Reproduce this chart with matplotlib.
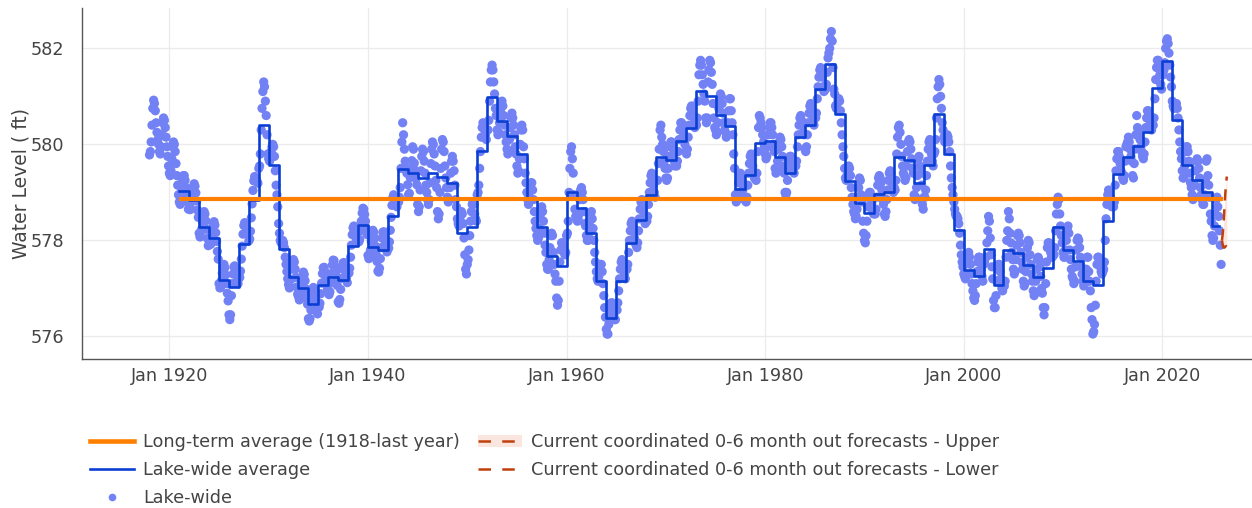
import matplotlib
matplotlib.use("Agg")
import matplotlib.pyplot as plt
import matplotlib.dates as mdates
from matplotlib.lines import Line2D
from matplotlib.patches import Patch
from matplotlib.legend_handler import HandlerTuple
import pandas as pd

# ---------------- data ----------------
monthly_start = "1918-01-01"
# Lake-wide monthly water levels (ft), one row per year 1918..2025 (Jan..Dec)
monthly_levels = [
    [579.78, 579.85, 580.05, 580.40, 580.75, 580.92, 580.85, 580.70, 580.45, 580.25, 580.10, 580.00],  # 1918
    [579.85, 579.80, 579.95, 580.20, 580.45, 580.55, 580.50, 580.35, 580.15, 579.95, 579.75, 579.55],  # 1919
    [579.40, 579.35, 579.45, 579.70, 579.95, 580.05, 580.00, 579.85, 579.60, 579.35, 579.15, 578.95],  # 1920
    [578.80, 578.75, 578.85, 579.05, 579.25, 579.35, 579.35, 579.25, 579.10, 578.95, 578.80, 578.65],  # 1921
    [578.72, 578.64, 578.66, 578.81, 578.98, 579.12, 579.18, 579.13, 578.99, 578.82, 578.63, 578.48],  # 1922
    [578.15, 578.07, 578.09, 578.23, 578.40, 578.54, 578.60, 578.55, 578.41, 578.23, 578.04, 577.89],  # 1923
    [578.01, 577.92, 577.92, 578.06, 578.21, 578.33, 578.39, 578.32, 578.16, 577.98, 577.77, 577.61],  # 1924
    [577.10, 577.01, 577.02, 577.16, 577.32, 577.44, 577.50, 577.43, 577.28, 577.10, 576.90, 576.74],  # 1925
    [576.45, 576.35, 576.45, 576.85, 577.10, 577.30, 577.45, 577.47, 577.40, 577.28, 577.15, 577.10],  # 1926
    [577.21, 577.23, 577.36, 577.61, 577.88, 578.13, 578.31, 578.37, 578.33, 578.26, 578.18, 578.13],  # 1927
    [577.99, 578.03, 578.19, 578.47, 578.76, 579.04, 579.24, 579.33, 579.31, 579.27, 579.22, 579.19],  # 1928
    [579.50, 579.55, 579.80, 580.30, 580.75, 581.10, 581.30, 581.20, 580.90, 580.60, 580.20, 579.80],  # 1929
    [579.70, 579.65, 579.70, 579.85, 579.95, 580.00, 579.95, 579.75, 579.45, 579.15, 578.95, 578.70],  # 1930
    [578.35, 578.15, 578.00, 577.95, 577.95, 578.00, 577.95, 577.85, 577.65, 577.50, 577.35, 577.20],  # 1931
    [577.08, 577.01, 577.03, 577.19, 577.40, 577.54, 577.60, 577.55, 577.40, 577.23, 577.03, 576.88],  # 1932
    [576.83, 576.76, 576.78, 576.94, 577.12, 577.26, 577.34, 577.29, 577.16, 576.99, 576.81, 576.67],  # 1933
    [576.37, 576.32, 576.37, 576.55, 576.75, 576.92, 577.02, 577.00, 576.89, 576.75, 576.59, 576.47],  # 1934
    [576.64, 576.61, 576.69, 576.89, 577.11, 577.31, 577.43, 577.44, 577.35, 577.23, 577.10, 577.00],  # 1935
    [576.92, 576.87, 576.93, 577.11, 577.31, 577.49, 577.59, 577.58, 577.47, 577.33, 577.18, 577.06],  # 1936
    [576.72, 576.69, 576.77, 576.98, 577.21, 577.41, 577.53, 577.54, 577.46, 577.35, 577.22, 577.12],  # 1937
    [577.32, 577.32, 577.42, 577.65, 577.90, 578.12, 578.26, 578.30, 578.23, 578.14, 578.03, 577.96],  # 1938
    [578.02, 577.97, 578.02, 578.20, 578.40, 578.57, 578.67, 578.65, 578.54, 578.40, 578.24, 578.12],  # 1939
    [577.69, 577.62, 577.64, 577.80, 577.98, 578.13, 578.21, 578.17, 578.04, 577.88, 577.70, 577.56],  # 1940
    [577.36, 577.34, 577.42, 577.62, 577.85, 578.05, 578.17, 578.18, 578.10, 577.98, 577.85, 577.76],  # 1941
    [577.82, 577.84, 577.97, 578.21, 578.48, 578.73, 578.89, 578.95, 578.91, 578.83, 578.75, 578.70],  # 1942
    [578.85, 578.80, 578.90, 579.10, 579.50, 580.05, 580.45, 580.20, 579.90, 579.65, 579.50, 579.40],  # 1943
    [579.16, 578.95, 578.98, 579.31, 579.50, 579.66, 579.95, 579.90, 579.61, 579.46, 579.29, 579.16],  # 1944
    [578.75, 578.60, 578.70, 579.05, 579.45, 579.75, 579.90, 579.85, 579.65, 579.40, 579.15, 579.00],  # 1945
    [578.85, 578.75, 578.85, 579.20, 579.60, 579.90, 580.05, 580.00, 579.80, 579.55, 579.25, 579.10],  # 1946
    [578.60, 578.45, 578.55, 579.00, 579.50, 579.90, 580.10, 580.05, 579.85, 579.55, 579.30, 579.10],  # 1947
    [578.90, 578.80, 578.85, 579.10, 579.40, 579.65, 579.75, 579.65, 579.45, 579.15, 578.85, 578.70],  # 1948
    [578.45, 578.35, 578.30, 578.45, 578.55, 578.60, 578.55, 578.35, 578.05, 577.70, 577.40, 577.30],  # 1949
    [577.50, 577.60, 577.80, 578.10, 578.40, 578.60, 578.75, 578.80, 578.75, 578.55, 578.45, 578.40],  # 1950
    [578.95, 579.00, 579.15, 579.50, 579.85, 580.15, 580.35, 580.45, 580.40, 580.30, 580.20, 580.10],  # 1951
    [580.30, 580.30, 580.50, 580.90, 581.30, 581.55, 581.65, 581.55, 581.30, 581.05, 580.75, 580.60],  # 1952
    [580.30, 580.20, 580.25, 580.45, 580.70, 580.85, 580.90, 580.80, 580.60, 580.40, 580.20, 580.05],  # 1953
    [579.90, 579.80, 579.85, 580.10, 580.35, 580.55, 580.65, 580.55, 580.40, 580.20, 579.95, 579.80],  # 1954
    [579.55, 579.40, 579.45, 579.70, 580.00, 580.30, 580.40, 580.30, 579.95, 579.70, 579.40, 579.20],  # 1955
    [579.00, 578.85, 578.75, 578.90, 579.10, 579.20, 579.20, 579.05, 578.85, 578.60, 578.40, 578.25],  # 1956
    [578.10, 578.00, 578.05, 578.25, 578.50, 578.65, 578.70, 578.60, 578.40, 578.15, 577.90, 577.75],  # 1957
    [577.50, 577.40, 577.40, 577.60, 577.85, 578.10, 578.15, 578.10, 577.75, 577.50, 577.30, 577.15],  # 1958
    [576.80, 576.65, 576.75, 577.15, 577.55, 577.80, 577.95, 577.95, 577.85, 577.75, 577.70, 577.75],  # 1959
    [578.10, 578.15, 578.40, 579.00, 579.50, 579.85, 579.95, 579.70, 579.40, 578.95, 578.65, 578.50],  # 1960
    [578.45, 578.40, 578.45, 578.55, 578.85, 579.05, 579.10, 579.00, 578.85, 578.60, 578.35, 578.30],  # 1961
    [578.10, 578.00, 578.00, 578.15, 578.40, 578.55, 578.60, 578.45, 578.25, 578.00, 577.75, 577.55],  # 1962
    [577.35, 577.20, 577.15, 577.25, 577.40, 577.50, 577.50, 577.35, 577.10, 576.85, 576.60, 576.40],  # 1963
    [576.15, 576.05, 576.05, 576.25, 576.45, 576.60, 576.70, 576.70, 576.60, 576.45, 576.35, 576.35],  # 1964
    [576.55, 576.55, 576.70, 576.95, 577.20, 577.40, 577.55, 577.60, 577.55, 577.45, 577.30, 577.20],  # 1965
    [577.40, 577.40, 577.50, 577.75, 578.00, 578.20, 578.35, 578.40, 578.30, 578.20, 578.05, 577.95],  # 1966
    [577.90, 577.85, 577.95, 578.20, 578.45, 578.65, 578.80, 578.85, 578.75, 578.60, 578.45, 578.35],  # 1967
    [578.45, 578.40, 578.50, 578.75, 579.00, 579.20, 579.35, 579.40, 579.30, 579.15, 579.00, 578.90],  # 1968
    [579.25, 579.25, 579.25, 579.60, 579.90, 580.30, 580.40, 580.15, 580.00, 579.85, 579.65, 579.50],  # 1969
    [579.30, 579.25, 579.30, 579.50, 579.75, 579.95, 580.05, 580.05, 579.95, 579.80, 579.65, 579.55],  # 1970
    [579.60, 579.55, 579.65, 579.85, 580.10, 580.30, 580.45, 580.45, 580.35, 580.25, 580.10, 580.00],  # 1971
    [579.85, 579.80, 579.90, 580.15, 580.40, 580.60, 580.75, 580.80, 580.70, 580.60, 580.45, 580.35],  # 1972
    [580.45, 580.40, 580.55, 580.90, 581.45, 581.65, 581.75, 581.65, 581.45, 581.25, 581.05, 580.90],  # 1973
    [580.55, 580.45, 580.55, 581.30, 581.55, 581.75, 581.70, 581.50, 581.25, 580.85, 580.55, 580.35],  # 1974
    [580.30, 580.20, 580.25, 580.45, 580.75, 580.95, 581.05, 581.00, 580.85, 580.65, 580.45, 580.30],  # 1975
    [580.25, 580.15, 580.20, 580.45, 580.70, 580.95, 580.95, 580.70, 580.45, 580.20, 579.80, 579.50],  # 1976
    [578.95, 578.80, 578.85, 579.00, 579.20, 579.35, 579.40, 579.35, 579.20, 579.05, 578.90, 578.85],  # 1977
    [578.85, 578.80, 578.90, 579.15, 579.40, 579.60, 579.75, 579.80, 579.70, 579.55, 579.40, 579.30],  # 1978
    [579.35, 579.25, 579.40, 579.85, 580.35, 580.60, 580.55, 580.45, 580.35, 580.20, 580.05, 579.95],  # 1979
    [579.80, 579.70, 579.75, 579.95, 580.20, 580.35, 580.45, 580.45, 580.35, 580.20, 580.00, 579.85],  # 1980
    [579.50, 579.40, 579.45, 579.65, 579.90, 580.05, 580.15, 580.10, 579.95, 579.75, 579.55, 579.40],  # 1981
    [579.00, 578.95, 579.00, 579.25, 579.45, 579.65, 579.75, 579.75, 579.65, 579.55, 579.45, 579.40],  # 1982
    [579.60, 579.55, 579.65, 579.95, 580.20, 580.40, 580.55, 580.60, 580.50, 580.40, 580.25, 580.20],  # 1983
    [579.90, 579.85, 579.95, 580.20, 580.45, 580.65, 580.80, 580.85, 580.75, 580.60, 580.45, 580.40],  # 1984
    [580.60, 580.55, 580.65, 580.95, 581.20, 581.40, 581.55, 581.60, 581.50, 581.40, 581.20, 581.10],  # 1985
    [581.20, 581.15, 581.25, 581.50, 581.80, 581.90, 582.00, 582.20, 582.35, 582.15, 581.60, 581.15],  # 1986
    [581.05, 580.80, 580.75, 580.85, 580.95, 580.95, 580.90, 580.70, 580.45, 580.20, 579.95, 579.75],  # 1987
    [579.50, 579.30, 579.25, 579.35, 579.50, 579.55, 579.50, 579.35, 579.10, 578.90, 578.75, 578.60],  # 1988
    [578.55, 578.45, 578.50, 578.65, 578.90, 579.10, 579.30, 579.25, 578.95, 578.80, 578.40, 578.15],  # 1989
    [578.00, 577.95, 578.10, 578.40, 578.70, 578.90, 579.00, 579.00, 578.90, 578.80, 578.60, 578.55],  # 1990
    [578.60, 578.55, 578.65, 578.90, 579.15, 579.30, 579.35, 579.30, 579.20, 579.05, 578.85, 578.75],  # 1991
    [578.55, 578.50, 578.60, 578.85, 579.05, 579.25, 579.40, 579.45, 579.40, 579.20, 579.05, 579.00],  # 1992
    [579.10, 579.05, 579.25, 579.80, 580.15, 580.35, 580.40, 580.25, 580.00, 579.75, 579.55, 579.40],  # 1993
    [579.35, 579.25, 579.30, 579.55, 579.85, 580.05, 580.10, 580.05, 579.90, 579.70, 579.50, 579.40],  # 1994
    [578.95, 578.85, 578.90, 579.10, 579.35, 579.70, 579.75, 579.55, 579.40, 579.15, 578.75, 578.65],  # 1995
    [578.90, 578.90, 579.05, 579.35, 579.65, 579.90, 580.05, 580.10, 579.95, 579.80, 579.65, 579.55],  # 1996
    [579.80, 579.85, 580.10, 580.55, 580.95, 581.20, 581.35, 581.25, 581.00, 580.75, 580.45, 580.30],  # 1997
    [580.15, 580.05, 580.05, 580.15, 580.20, 580.15, 580.05, 579.85, 579.55, 579.30, 579.10, 578.95],  # 1998
    [578.80, 578.65, 578.55, 578.50, 578.50, 578.45, 578.35, 578.15, 577.90, 577.70, 577.55, 577.45],  # 1999
    [577.30, 577.25, 577.20, 577.30, 577.55, 577.70, 577.75, 577.65, 577.50, 577.30, 577.10, 576.95],  # 2000
    [576.80, 576.75, 576.85, 577.10, 577.35, 577.55, 577.65, 577.65, 577.55, 577.40, 577.25, 577.15],  # 2001
    [577.50, 577.55, 577.65, 577.65, 577.95, 578.20, 578.50, 578.40, 578.05, 577.70, 577.45, 577.20],  # 2002
    [576.75, 576.60, 576.60, 576.85, 577.15, 577.40, 577.50, 577.50, 577.35, 577.20, 577.00, 576.95],  # 2003
    [577.10, 577.05, 577.15, 577.65, 578.00, 578.20, 578.60, 578.45, 578.15, 577.95, 577.75, 577.60],  # 2004
    [577.40, 577.30, 577.35, 577.60, 577.90, 578.10, 578.15, 578.10, 577.95, 577.75, 577.55, 577.40],  # 2005
    [577.15, 577.05, 577.10, 577.35, 577.65, 577.85, 578.00, 577.95, 577.70, 577.50, 577.30, 577.15],  # 2006
    [576.95, 576.85, 576.90, 577.15, 577.40, 577.60, 577.65, 577.60, 577.45, 577.25, 577.00, 576.90],  # 2007
    [576.60, 576.45, 576.60, 577.10, 577.55, 577.85, 577.95, 577.95, 577.85, 577.75, 577.65, 577.65],  # 2008
    [577.70, 577.70, 577.85, 578.20, 578.55, 578.75, 578.90, 578.85, 578.55, 578.30, 578.10, 577.95],  # 2009
    [577.75, 577.65, 577.65, 577.80, 578.00, 578.25, 578.30, 578.15, 577.80, 577.60, 577.40, 577.25],  # 2010
    [577.20, 577.10, 577.15, 577.45, 577.80, 578.00, 578.05, 578.00, 577.85, 577.65, 577.45, 577.30],  # 2011
    [577.15, 577.05, 577.10, 577.25, 577.40, 577.65, 577.65, 577.35, 577.15, 576.95, 576.60, 576.35],  # 2012
    [576.05, 576.10, 576.25, 576.65, 577.15, 577.50, 577.65, 577.65, 577.55, 577.45, 577.35, 577.30],  # 2013
    [577.35, 577.40, 577.55, 578.00, 578.45, 578.75, 578.95, 579.05, 579.00, 578.90, 578.75, 578.70],  # 2014
    [578.75, 578.70, 578.80, 579.15, 579.45, 579.70, 579.85, 579.85, 579.75, 579.60, 579.45, 579.40],  # 2015
    [579.30, 579.25, 579.35, 579.65, 579.95, 580.00, 580.05, 580.15, 580.05, 579.90, 579.75, 579.65],  # 2016
    [579.35, 579.30, 579.60, 579.90, 580.20, 580.60, 580.35, 580.30, 580.25, 580.10, 579.95, 579.85],  # 2017
    [579.75, 579.70, 579.80, 580.05, 580.35, 580.55, 580.70, 580.70, 580.60, 580.50, 580.35, 580.30],  # 2018
    [580.40, 580.40, 580.55, 580.95, 581.35, 581.60, 581.75, 581.75, 581.60, 581.45, 581.25, 581.15],  # 2019
    [581.45, 581.45, 581.55, 581.70, 582.00, 582.15, 582.20, 582.10, 581.90, 581.65, 581.40, 581.20],  # 2020
    [580.90, 580.80, 580.75, 580.80, 580.85, 580.85, 580.75, 580.55, 580.30, 580.05, 579.85, 579.70],  # 2021
    [579.45, 579.30, 579.30, 579.55, 579.85, 579.95, 579.95, 579.85, 579.65, 579.40, 579.20, 579.10],  # 2022
    [578.95, 578.85, 578.90, 579.15, 579.45, 579.65, 579.70, 579.65, 579.50, 579.30, 579.10, 578.95],  # 2023
    [578.85, 578.75, 578.75, 578.95, 579.25, 579.65, 579.70, 579.35, 579.15, 578.90, 578.55, 578.40],  # 2024
    [578.10, 578.00, 578.05, 578.30, 578.55, 578.85, 578.90, 578.70, 578.50, 578.20, 577.90, 577.50],  # 2025
]

# Lake-wide annual average (ft), 1921..2025
avg_first_year = 1921
avg_levels = [
    579.03, 578.85, 578.27, 578.06, 577.17, 577.03, 577.92, 578.84, 580.40, 579.57,  # 1921-1930
    577.82, 577.24, 577.00, 576.67, 577.07, 577.24, 577.17, 577.89, 578.32, 577.87,  # 1931-1940
    577.81, 578.51, 579.49, 579.41, 579.29, 579.41, 579.33, 579.19, 578.15, 578.28,  # 1941-1950
    579.86, 580.98, 580.49, 580.18, 579.80, 578.87, 578.28, 577.67, 577.47, 579.01,  # 1951-1960
    578.68, 578.15, 577.16, 576.39, 577.16, 577.95, 578.42, 578.94, 579.74, 579.67,  # 1961-1970
    580.06, 580.35, 581.11, 581.01, 580.61, 580.38, 579.08, 579.36, 580.02, 580.07,  # 1971-1980
    579.74, 579.40, 580.16, 580.40, 581.15, 581.67, 580.63, 579.24, 578.77, 578.58,  # 1981-1990
    578.97, 579.01, 579.74, 579.67, 579.19, 579.57, 580.63, 579.80, 578.22, 577.38,  # 1991-2000
    577.26, 577.82, 577.07, 577.80, 577.73, 577.49, 577.23, 577.43, 578.28, 577.80,  # 2001-2010
    577.58, 577.16, 577.08, 578.41, 579.38, 579.74, 579.97, 580.26, 581.18, 581.74,  # 2011-2020
    580.51, 579.56, 579.26, 579.01, 578.31,                                          # 2021-2025
]
avg_end = "2025-10-01"

# Long-term average (1918-last year)
long_term_avg = 578.87
long_term_span = ["1921-01-01", "2026-02-01"]

# Current coordinated 0-6 month out forecasts
forecast_start = "2026-01-01"
forecast_upper = [578.00, 578.15, 578.35, 578.65, 578.95, 579.20, 579.33]
forecast_lower = [578.00, 577.90, 577.85, 577.85, 577.87, 577.88, 577.87]

y_ticks = [576, 578, 580, 582]
labels_col1 = ["Long-term average (1918-last year)", "Lake-wide average", "Lake-wide"]
labels_col2 = ["Current coordinated 0-6 month out forecasts - Upper",
               "Current coordinated 0-6 month out forecasts - Lower"]

# ---------------- derived series ----------------
lake_wide = [v for row in monthly_levels for v in row]
lake_dates = pd.date_range(monthly_start, periods=len(lake_wide), freq="MS")

avg_dates = list(pd.date_range(f"{avg_first_year}-01-01", periods=len(avg_levels), freq="YS"))
avg_x = avg_dates + [pd.Timestamp(avg_end)]
avg_y = avg_levels + [avg_levels[-1]]

fc_dates = pd.date_range(forecast_start, periods=len(forecast_upper), freq="MS")
lt_x = pd.to_datetime(long_term_span)

# ---------------- styling ----------------
C_ORANGE = "#ff8000"
C_BLUE = "#0b3fd3"
C_DOTS = "#7282f5"
C_FC = "#c0400c"
C_FILL = "#fbe6df"
C_TEXT = "#444444"
FS = 12.7

plt.rcParams["font.family"] = ["DejaVu Sans"]

fig = plt.figure(figsize=(12.52, 5.08), dpi=100)
ax = fig.add_axes([82 / 1252, 1 - 359 / 508, (1252 - 82) / 1252, (359 - 8) / 508])

ax.scatter(lake_dates, lake_wide, s=44, color=C_DOTS, edgecolors="none", zorder=2)
ax.step(avg_x, avg_y, where="post", color=C_BLUE, lw=1.9, zorder=3)
ax.plot(lt_x, [long_term_avg, long_term_avg], color=C_ORANGE, lw=3.0,
        solid_capstyle="butt", zorder=4)
ax.fill_between(fc_dates, forecast_lower, forecast_upper, color=C_FILL, lw=0, zorder=4)
dash = (0, (4.5, 3.5))
ax.plot(fc_dates, forecast_upper, color=C_FC, lw=1.8, ls=dash, zorder=5)
ax.plot(fc_dates, forecast_lower, color=C_FC, lw=1.8, ls=dash, zorder=5)

# axes
ax.set_xlim(pd.Timestamp("1911-03-15"), pd.Timestamp("2029-01-10"))
ax.set_ylim(575.53, 582.84)
ax.set_yticks(y_ticks)
ax.xaxis.set_major_locator(mdates.YearLocator(base=20, month=1, day=1))
ax.xaxis.set_major_formatter(mdates.DateFormatter("%b %Y"))
ax.grid(True, color="#ebebeb", lw=0.9, zorder=0)
ax.set_axisbelow(True)
for s in ["top", "right"]:
    ax.spines[s].set_visible(False)
for s in ["left", "bottom"]:
    ax.spines[s].set_color("#555555")
    ax.spines[s].set_linewidth(1.0)
ax.tick_params(axis="both", length=0, labelsize=FS, colors=C_TEXT)
ax.tick_params(axis="y", pad=13)
ax.tick_params(axis="x", pad=6)
ax.set_ylabel("Water Level ( ft)", fontsize=13.5, color=C_TEXT)
ax.yaxis.set_label_coords(-0.044, 0.5)

# legend
leg_dash = (0, (5.0, 4.5))
h_lt = Line2D([], [], color=C_ORANGE, lw=3.3)
h_avg = Line2D([], [], color=C_BLUE, lw=1.9)
h_dot = Line2D([], [], ls="none", marker="o", ms=5.5, mfc=C_DOTS, mec="none")
h_up = (Patch(facecolor=C_FILL, edgecolor="none"),
        Line2D([], [], color=C_FC, lw=1.8, ls=leg_dash))
h_lo = Line2D([], [], color=C_FC, lw=1.8, ls=leg_dash)

common = dict(loc="upper left", frameon=False, fontsize=FS, handlelength=2.5,
              handletextpad=0.5, labelspacing=0.56, borderpad=0, borderaxespad=0,
              labelcolor=C_TEXT, handler_map={tuple: HandlerTuple(ndivide=1, pad=0)})
fig.legend([h_lt, h_avg, h_dot], labels_col1, bbox_to_anchor=(90 / 1252, 1 - 433 / 508), **common)
fig.legend([h_up, h_lo], labels_col2, bbox_to_anchor=(478 / 1252, 1 - 433 / 508), **common)

fig.savefig("out.png", dpi=100)
